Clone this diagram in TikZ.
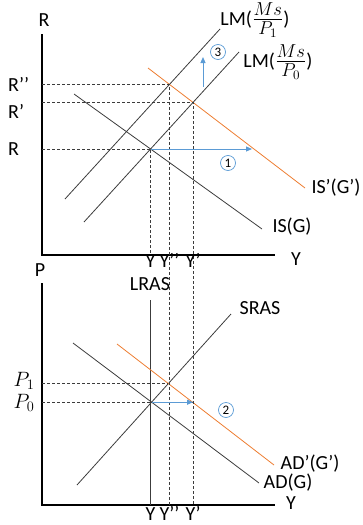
\documentclass[tikz,border=0pt]{standalone}
\usepackage{fontspec}
\setmainfont{Carlito}
\usepackage{graphicx}
\usepackage{tikz}
\usetikzlibrary{arrows.meta}
\definecolor{shiftOrange}{RGB}{237,125,49}
\definecolor{shiftBlue}{RGB}{91,155,213}
\definecolor{curveGray}{RGB}{60,60,60}
\newcommand{\msover}[1]{\scalebox{1.3}{$\frac{Ms}{P_{#1}}$}}

\begin{document}
\begin{tikzpicture}[x=1pt,y=-1pt,
    grayCurve/.style={curveGray, line width=0.8pt},
    orangeCurve/.style={shiftOrange, line width=0.8pt},
    axisLine/.style={black, line width=1.6pt},
    guideLine/.style={curveGray, dash pattern=on 3pt off 2pt, line width=0.7pt},
    shiftArrow/.style={shiftBlue, line width=1pt, -{Triangle[length=6pt,width=5pt]}},
    stepMark/.style={circle, draw=shiftBlue, line width=0.7pt, inner sep=0pt, minimum size=15pt, font=\fontsize{13}{13}\selectfont},
    econLabel/.style={font=\fontsize{20}{22}\selectfont, inner sep=0pt}]
    \useasboundingbox (0,0) rectangle (362,525);
    % axes
    \coordinate (Rtop) at (42,34);
    \coordinate (Oup) at (42,255);
    \coordinate (Yup) at (275,255);
    \coordinate (Ptop) at (42,283);
    \coordinate (Olow) at (42,505);
    \coordinate (Ylow) at (275,505);
    \coordinate (labX) at (8,0);
    \draw[axisLine] (Rtop) -- (Oup) -- (Yup);
    \draw[axisLine] (Ptop) -- (Olow) -- (Ylow);
    \node[econLabel] (Rname) at (44,20) {R};
    \node[econLabel] (Yname) at (296,259) {Y};
    \node[econLabel] (Pname) at (40,270) {P};
    \node[econLabel] (Ynamelow) at (291,503) {Y};
    % IS-LM curves
    \coordinate (ISa) at (74,94);   \coordinate (ISb) at (262,229);
    \coordinate (LMza) at (84,222); \coordinate (LMzb) at (239,52);
    \coordinate (LMoa) at (65,199); \coordinate (LMob) at (220,29);
    \coordinate (ISna) at (148,68); \coordinate (ISnb) at (305,188);
    \draw[grayCurve] (ISa) -- (ISb);
    \draw[grayCurve] (LMza) -- (LMzb);
    \draw[grayCurve] (LMoa) -- (LMob);
    \draw[orangeCurve] (ISna) -- (ISnb);
    \coordinate (E0) at (intersection of ISa--ISb and LMza--LMzb);
    \coordinate (E1) at (intersection of ISna--ISnb and LMza--LMzb);
    \coordinate (E2) at (intersection of ISna--ISnb and LMoa--LMob);
    % AS-AD curves
    \coordinate (LRASa) at (E0 |- 0,300);
    \coordinate (LRASb) at (E0 |- Olow);
    \coordinate (SRASa) at (77,485);  \coordinate (SRASb) at (231,314);
    \coordinate (ADa) at (73,343);    \coordinate (ADb) at (259,483);
    \coordinate (ADna) at (117,344);  \coordinate (ADnb) at (274,465);
    \draw[grayCurve] (LRASa) -- (LRASb);
    \draw[grayCurve] (SRASa) -- (SRASb);
    \draw[grayCurve] (ADa) -- (ADb);
    \draw[orangeCurve] (ADna) -- (ADnb);
    \coordinate (F0) at (intersection of SRASa--SRASb and ADa--ADb);
    \coordinate (F1) at (intersection of SRASa--SRASb and ADna--ADnb);
    % dashed guides
    \draw[guideLine] (Oup |- E2) -- (E2) -- (E2 |- Olow);
    \draw[guideLine] (Oup |- E1) -- (E1) -- (E1 |- Olow);
    \draw[guideLine] (Oup |- E0) -- (E0) -- (E0 |- Oup);
    \draw[guideLine] (Olow |- F1) -- (F1);
    \draw[guideLine] (Olow |- F0) -- (E1 |- F0);
    % shifts
    \coordinate (oneTip) at (252,0);
    \coordinate (threeTail) at (203,87);
    \coordinate (threeTip) at (203,57);
    \draw[shiftArrow] (E0) -- (E0 -| oneTip);
    \draw[shiftArrow] (F0) -- (E1 |- F0);
    \draw[shiftArrow] (threeTail) -- (threeTip);
    \node[stepMark] (stepOne) at (228,163) {1};
    \node[stepMark] (stepTwo) at (226,410) {2};
    \node[stepMark] (stepThree) at (218,52) {3};
    % labels
    \node[econLabel, anchor=west] (Rtwo) at (labX |- E2) {R’’};
    \node[econLabel, anchor=west] (Rone) at (8,111) {R’};
    \node[econLabel, anchor=west] (Rzero) at (labX |- E0) {R};
    \node[econLabel] (Pone) at (24,381) {$P_1$};
    \node[econLabel] (Pzero) at (24,403) {$P_0$};
    \node[econLabel, anchor=base] (Yzero) at (E0 |- 0,267) {Y};
    \node[econLabel, anchor=base] (Ytwo) at (E2 |- 0,267) {Y’’};
    \node[econLabel, anchor=base] (Yone) at (E1 |- 0,267) {Y’};
    \node[econLabel, anchor=base] (Yzerolow) at (E0 |- 0,520) {Y};
    \node[econLabel, anchor=base] (Ytwolow) at (E2 |- 0,520) {Y’’};
    \node[econLabel, anchor=base] (Yonelow) at (E1 |- 0,520) {Y’};
    \node[econLabel] (LMone) at (255,20) {LM(\msover{1})};
    \node[econLabel] (LMzero) at (278,62) {LM(\msover{0})};
    \node[econLabel] (ISname) at (292,227) {IS(G)};
    \node[econLabel] (ISnew) at (336,188) {IS’(G’)};
    \node[econLabel] (LRAS) at (150,284) {LRAS};
    \node[econLabel] (SRAS) at (260,308) {SRAS};
    \node[econLabel] (ADnew) at (310,464) {AD’(G’)};
    \node[econLabel] (ADname) at (288,483) {AD(G)};
\end{tikzpicture}
\end{document}
